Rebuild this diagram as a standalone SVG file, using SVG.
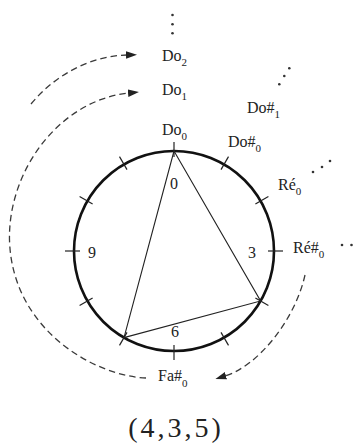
<svg xmlns="http://www.w3.org/2000/svg" width="359" height="443" viewBox="0 0 359 443">
<style>
text{font-family:"Liberation Serif","Tinos","Times New Roman","DejaVu Serif",serif;font-size:16px;fill:#222}
.sub{font-size:11px}
.ring{fill:none;stroke:#111;stroke-width:2.6}
.tick{stroke:#222;stroke-width:1.2}
.tri{fill:none;stroke:#222;stroke-width:1.1}
.dash{fill:none;stroke:#3a3a3a;stroke-width:1.3;stroke-dasharray:6.5 4}
.dot{fill:#333}
.cap{font-size:28px;letter-spacing:3px}
</style>
<defs>
<marker id="ah" viewBox="0 -5 12 10" refX="1" refY="0" markerWidth="12" markerHeight="10" markerUnits="userSpaceOnUse" orient="auto">
<path d="M0,-3.8 L11,0 L0,3.8 z" fill="#222"/>
</marker>
</defs>
<rect width="359" height="443" fill="#fff"/>

<g id="circle">
<circle class="ring" cx="174" cy="251" r="100"/>
<g class="tick">
<line x1="174" y1="157" x2="174" y2="142"/>
<line x1="221" y1="169.6" x2="228.5" y2="156.6"/>
<line x1="255.4" y1="204" x2="268.4" y2="196.5"/>
<line x1="268" y1="251" x2="283" y2="251"/>
<line x1="255.4" y1="298" x2="268.4" y2="305.5"/>
<line x1="221" y1="332.4" x2="228.5" y2="345.4"/>
<line x1="174" y1="345" x2="174" y2="360"/>
<line x1="127" y1="332.4" x2="119.5" y2="345.4"/>
<line x1="92.6" y1="298" x2="79.6" y2="305.5"/>
<line x1="80" y1="251" x2="65" y2="251"/>
<line x1="92.6" y1="204" x2="79.6" y2="196.5"/>
<line x1="127" y1="169.6" x2="119.5" y2="156.6"/>
</g>
<polygon class="tri" points="174,151 260.6,301 124,337.6"/>
<text x="170" y="189">0</text>
<text x="248" y="258">3</text>
<text x="171" y="337">6</text>
<text x="88" y="258">9</text>
</g>

<g id="do2"><text x="162" y="61">Do<tspan class="sub" dy="5">2</tspan></text></g>
<g id="do1"><text x="162" y="95">Do<tspan class="sub" dy="5">1</tspan></text></g>
<g id="do0"><text x="162" y="135">Do<tspan class="sub" dy="5">0</tspan></text></g>
<g id="dos1"><text x="247" y="113">Do#<tspan class="sub" dy="5">1</tspan></text></g>
<g id="dos0"><text x="228" y="147">Do#<tspan class="sub" dy="5">0</tspan></text></g>
<g id="re0"><text x="278" y="190">Ré<tspan class="sub" dy="5">0</tspan></text></g>
<g id="res0"><text x="293" y="253">Ré#<tspan class="sub" dy="5">0</tspan></text></g>
<g id="fas0"><text x="158" y="381">Fa#<tspan class="sub" dy="6">0</tspan></text></g>

<g id="dots">
<circle class="dot" cx="172.5" cy="15" r="1.3"/>
<circle class="dot" cx="172.5" cy="24.3" r="1.3"/>
<circle class="dot" cx="172.5" cy="33.3" r="1.3"/>
<circle class="dot" cx="279.3" cy="84.3" r="1.3"/>
<circle class="dot" cx="284.3" cy="76" r="1.3"/>
<circle class="dot" cx="289.3" cy="68.3" r="1.3"/>
<circle class="dot" cx="313" cy="172" r="1.3"/>
<circle class="dot" cx="322" cy="167" r="1.3"/>
<circle class="dot" cx="330" cy="161" r="1.3"/>
<circle class="dot" cx="342" cy="245" r="1.3"/>
<circle class="dot" cx="351.5" cy="245" r="1.3"/>
</g>

<g id="connectors">
<path class="dash" d="M31,104 C55,75 90,56 127,55" marker-end="url(#ah)"/>
<path class="dash" d="M146,378 C95,376 12,330 9.5,240 C8,170 60,100 129,93" marker-end="url(#ah)"/>
<path class="dash" d="M305,275 C295,320 258,366 225,376" marker-end="url(#ah)"/>
</g>

<g id="caption"><text class="cap" x="176" y="437" text-anchor="middle">(4,3,5)</text></g>
</svg>
